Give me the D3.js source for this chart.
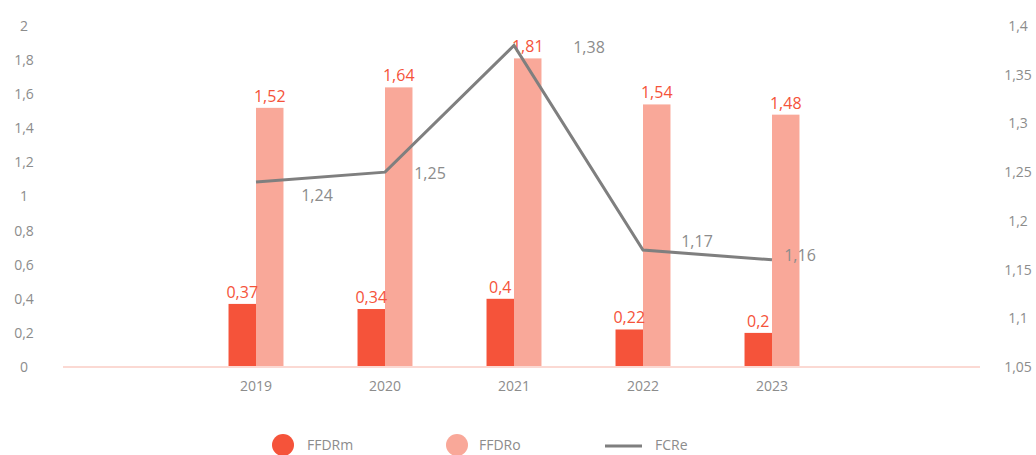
<!DOCTYPE html>
<html>
<head>
<meta charset="utf-8">
<script src="https://cdn.jsdelivr.net/npm/d3@7"></script>
<style>
  html, body { margin: 0; padding: 0; background: #ffffff; }
  svg { display: block; font-family: "Open Sans", "Noto Sans", sans-serif; }
</style>
</head>
<body>
<svg id="chart" width="1036" height="455"></svg>
<script>
// Data
const years = ["2019", "2020", "2021", "2022", "2023"];
const ffdrm = [0.37, 0.34, 0.4, 0.22, 0.2];
const ffdro = [1.52, 1.64, 1.81, 1.54, 1.48];
const fcre = [1.24, 1.25, 1.38, 1.17, 1.16];
const leftTicks = [0, 0.2, 0.4, 0.6, 0.8, 1, 1.2, 1.4, 1.6, 1.8, 2];
const rightTicks = [1.05, 1.1, 1.15, 1.2, 1.25, 1.3, 1.35, 1.4];
const seriesNames = ["FFDRm", "FFDRo", "FCRe"];

// Styling
const colDark = "#f5533a";
const colLight = "#f9a899";
const colLine = "#7f7f7f";
const colText = "#8c8c8c";
const colBase = "#fbd9d3";
// FCRe label nudges (dx, dy) relative to each point
const lineLabelNudge = [[61, 14], [45, 1], [75, 2], [54, -9], [28, -4]];

const fmt = v => String(v).replace(".", ",");

const svg = d3.select("#chart");
const yTop = 26, yBottom = 367;

const x = d3.scaleBand().domain(years).range([191.5, 836.5])
  .paddingInner(0.574).paddingOuter(0.287);
const xSub = d3.scaleBand().domain(["m", "o"]).range([0, x.bandwidth()]);
const yL = d3.scaleLinear().domain([0, 2]).range([yBottom, yTop]);
const yR = d3.scaleLinear().domain([1.05, 1.4]).range([yBottom, yTop]);

// Left axis labels
const leftAxis = svg.append("g").attr("transform", "translate(24,0)")
  .call(d3.axisLeft(yL).tickValues(leftTicks).tickFormat(fmt).tickSize(0).tickPadding(0));
leftAxis.select(".domain").remove();
leftAxis.selectAll("text").attr("text-anchor", "middle").attr("fill", colText)
  .style("font-size", "14px").style("font-family", "Open Sans, sans-serif");

// Right axis labels
const rightAxis = svg.append("g").attr("transform", "translate(1018,0)")
  .call(d3.axisRight(yR).tickValues(rightTicks).tickFormat(fmt).tickSize(0).tickPadding(0));
rightAxis.select(".domain").remove();
rightAxis.selectAll("text").attr("text-anchor", "middle").attr("fill", colText)
  .style("font-size", "14px").style("font-family", "Open Sans, sans-serif");

// Bars
const g = svg.append("g");
g.selectAll("rect.m").data(years).join("rect").attr("class", "m")
  .attr("x", d => x(d) + xSub("m")).attr("width", xSub.bandwidth())
  .attr("y", (d, i) => yL(ffdrm[i])).attr("height", (d, i) => yBottom - yL(ffdrm[i]))
  .attr("fill", colDark);
g.selectAll("rect.o").data(years).join("rect").attr("class", "o")
  .attr("x", d => x(d) + xSub("o")).attr("width", xSub.bandwidth())
  .attr("y", (d, i) => yL(ffdro[i])).attr("height", (d, i) => yBottom - yL(ffdro[i]))
  .attr("fill", colLight);

// Baseline
svg.append("line").attr("x1", 63).attr("x2", 980).attr("y1", yBottom).attr("y2", yBottom)
  .attr("stroke", colBase).attr("stroke-width", 2);

// X axis labels
const xAxis = svg.append("g").attr("transform", `translate(0,${yBottom + 14})`)
  .call(d3.axisBottom(x).tickSize(0).tickPadding(0));
xAxis.select(".domain").remove();
xAxis.selectAll("text").attr("fill", colText)
  .style("font-size", "14px").style("font-family", "Open Sans, sans-serif");

// Bar value labels
g.selectAll("text.m").data(years).join("text").attr("class", "m")
  .attr("x", d => x(d) + xSub("m") + xSub.bandwidth() / 2)
  .attr("y", (d, i) => yL(ffdrm[i]) - 6)
  .attr("text-anchor", "middle").attr("fill", colDark).style("font-size", "16px")
  .text((d, i) => fmt(ffdrm[i]));
g.selectAll("text.o").data(years).join("text").attr("class", "o")
  .attr("x", d => x(d) + xSub("o") + xSub.bandwidth() / 2)
  .attr("y", (d, i) => yL(ffdro[i]) - 6)
  .attr("text-anchor", "middle").attr("fill", colDark).style("font-size", "16px")
  .text((d, i) => fmt(ffdro[i]));

// FCRe line
const cx = d => x(d) + x.bandwidth() / 2;
const line = d3.line().x((d, i) => cx(years[i])).y(d => yR(d));
svg.append("path").datum(fcre).attr("d", line)
  .attr("fill", "none").attr("stroke", colLine).attr("stroke-width", 3);

svg.selectAll("text.fc").data(fcre).join("text").attr("class", "fc")
  .attr("x", (d, i) => cx(years[i]) + lineLabelNudge[i][0])
  .attr("y", (d, i) => yR(d) + lineLabelNudge[i][1])
  .attr("dy", "0.35em").attr("text-anchor", "middle")
  .attr("fill", colText).style("font-size", "16px")
  .text(d => fmt(d));

// Legend
const legend = svg.append("g");
legend.append("circle").attr("cx", 283).attr("cy", 445).attr("r", 11).attr("fill", colDark);
legend.append("text").attr("x", 307).attr("y", 445).attr("dy", "0.35em")
  .attr("fill", colText).style("font-size", "14px").text(seriesNames[0]);
legend.append("circle").attr("cx", 457).attr("cy", 445).attr("r", 11).attr("fill", colLight);
legend.append("text").attr("x", 479).attr("y", 445).attr("dy", "0.35em")
  .attr("fill", colText).style("font-size", "14px").text(seriesNames[1]);
legend.append("line").attr("x1", 605).attr("x2", 642).attr("y1", 446).attr("y2", 446)
  .attr("stroke", colLine).attr("stroke-width", 3);
legend.append("text").attr("x", 655).attr("y", 445).attr("dy", "0.35em")
  .attr("fill", colText).style("font-size", "14px").text(seriesNames[2]);
</script>
</body>
</html>
